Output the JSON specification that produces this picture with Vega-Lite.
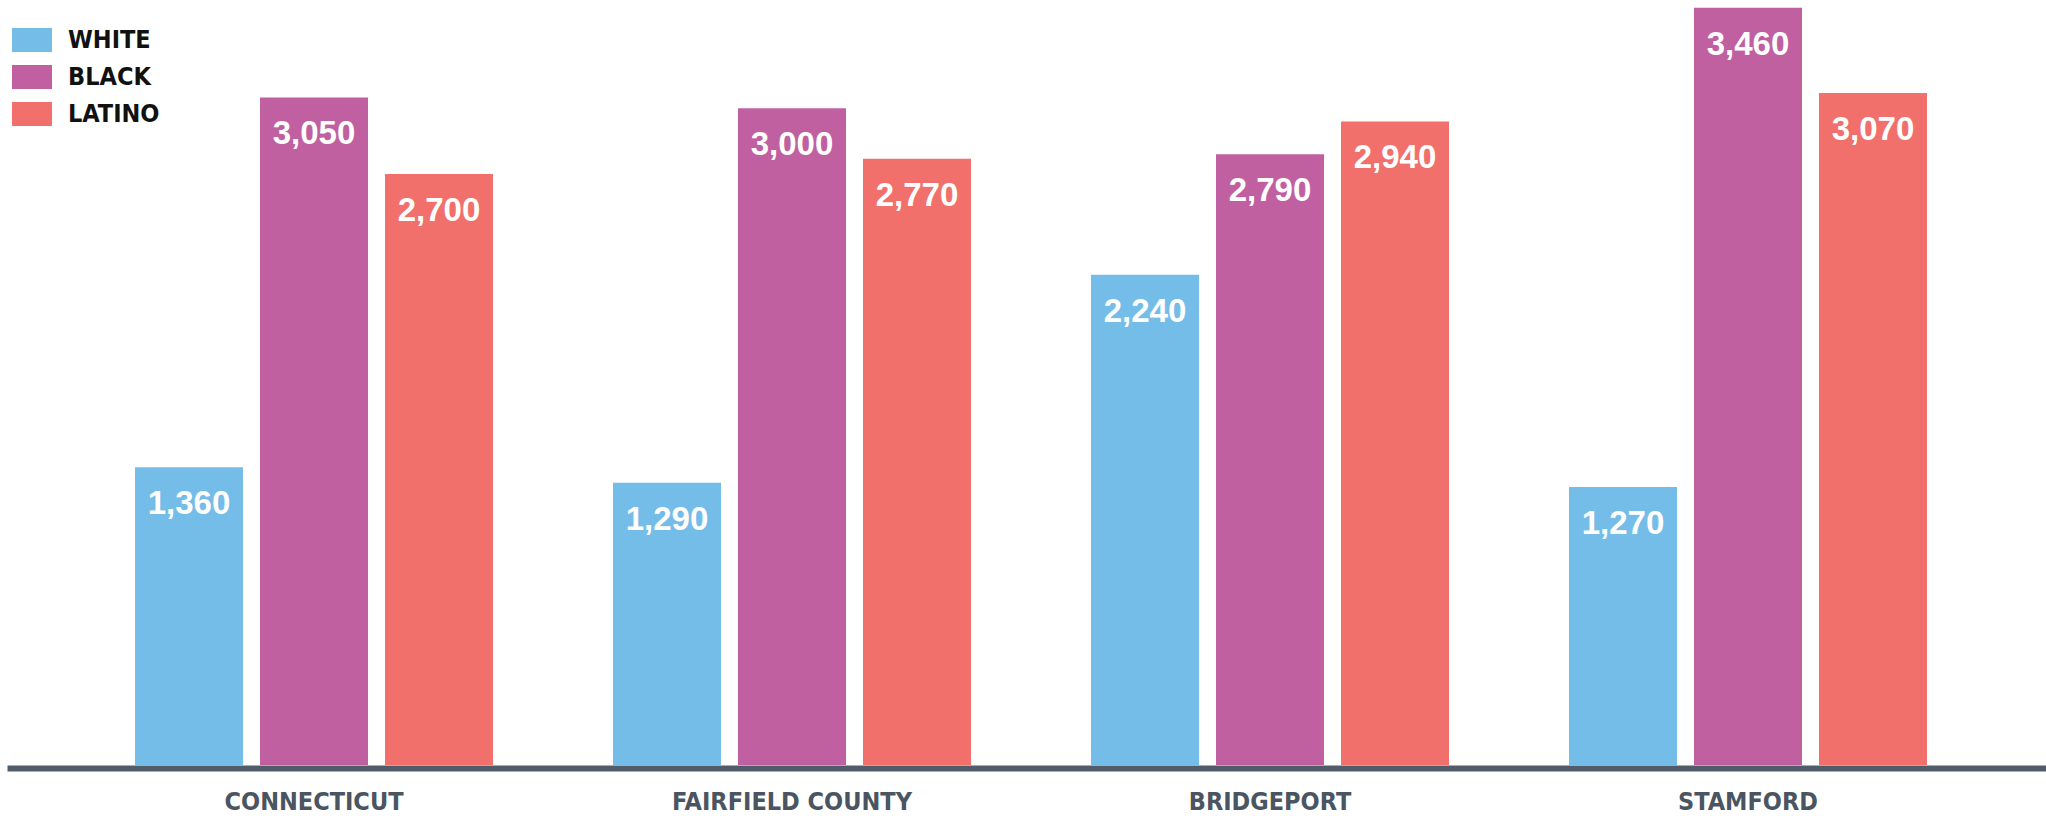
{
  "$schema": "https://vega.github.io/schema/vega-lite/v6.json",
  "autosize": {"type": "none"},
  "width": 2048,
  "height": 765,
  "padding": {"left": 7, "top": 0, "right": 0, "bottom": 51},
  "background": "#ffffff",
  "config": {"view": {"stroke": null}},
  "data": {
    "values": [
      {"place": "CONNECTICUT", "group": "WHITE", "value": 1360},
      {"place": "CONNECTICUT", "group": "BLACK", "value": 3050},
      {"place": "CONNECTICUT", "group": "LATINO", "value": 2700},
      {"place": "FAIRFIELD COUNTY", "group": "WHITE", "value": 1290},
      {"place": "FAIRFIELD COUNTY", "group": "BLACK", "value": 3000},
      {"place": "FAIRFIELD COUNTY", "group": "LATINO", "value": 2770},
      {"place": "BRIDGEPORT", "group": "WHITE", "value": 2240},
      {"place": "BRIDGEPORT", "group": "BLACK", "value": 2790},
      {"place": "BRIDGEPORT", "group": "LATINO", "value": 2940},
      {"place": "STAMFORD", "group": "WHITE", "value": 1270},
      {"place": "STAMFORD", "group": "BLACK", "value": 3460},
      {"place": "STAMFORD", "group": "LATINO", "value": 3070}
    ]
  },
  "encoding": {
    "x": {
      "field": "place", "type": "nominal",
      "sort": ["CONNECTICUT", "FAIRFIELD COUNTY", "BRIDGEPORT", "STAMFORD"],
      "scale": {"paddingInner": 0.251, "paddingOuter": 0.2678},
      "axis": {
        "title": null, "offset": 3, "domainWidth": 6, "domainColor": "#505c68",
        "ticks": false, "tickSize": 0, "labelPadding": 21, "labelAngle": 0,
        "labelFont": "DejaVu Sans Condensed", "labelFontWeight": "bold",
        "labelFontSize": 25, "labelColor": "#4a5561", "labelBaseline": "top",
        "labelLimit": 0
      }
    },
    "xOffset": {
      "field": "group", "type": "nominal",
      "scale": {"domain": ["WHITE", "BLACK", "LATINO"], "paddingInner": 0.136, "paddingOuter": 0}
    },
    "y": {
      "field": "value", "type": "quantitative",
      "scale": {"domain": [0, 3495], "nice": false},
      "axis": null
    }
  },
  "layer": [
    {
      "mark": {"type": "bar"},
      "encoding": {
        "color": {
          "field": "group", "type": "nominal",
          "scale": {"domain": ["WHITE", "BLACK", "LATINO"], "range": ["#74bde8", "#c060a1", "#f1706c"]},
          "legend": {
            "title": null, "orient": "none", "legendX": 9, "legendY": 24,
            "padding": 0, "offset": 0,
            "symbolType": "M-1.25,-0.75H1.25V0.75H-1.25Z",
            "symbolSize": 1024, "symbolStrokeWidth": 0, "symbolOpacity": 1,
            "rowPadding": 8, "labelOffset": 20,
            "labelFont": "DejaVu Sans Condensed", "labelFontWeight": "bold",
            "labelFontSize": 25, "labelColor": "#111111", "labelLimit": 0
          }
        }
      }
    },
    {
      "mark": {"type": "text", "baseline": "alphabetic", "dy": 47, "color": "#ffffff",
               "font": "Liberation Sans", "fontWeight": "bold", "fontSize": 33},
      "encoding": {
        "text": {"field": "value", "type": "quantitative", "format": ","}
      }
    }
  ]
}
